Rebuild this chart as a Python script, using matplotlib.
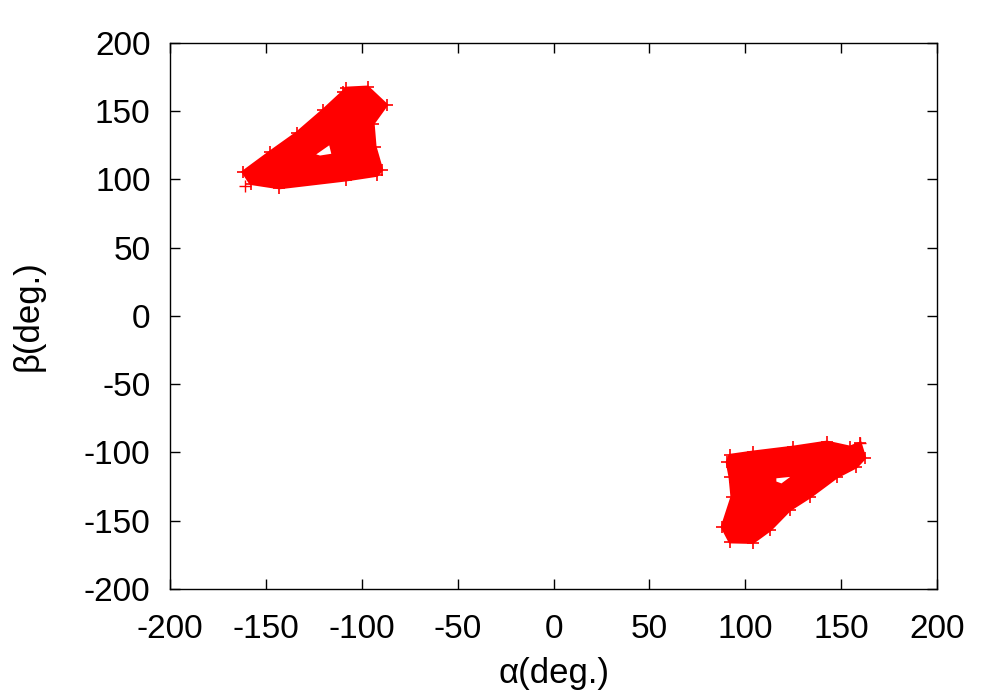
import numpy as np
import matplotlib
matplotlib.use("Agg")
import matplotlib.pyplot as plt
from matplotlib.path import Path
from matplotlib.patches import PathPatch

plt.rcParams['font.family'] = ['Liberation Sans', 'DejaVu Sans']
plt.rcParams['axes.unicode_minus'] = False

# Region 1 (upper left) outer boundary (alpha, beta)
r1_outer_a = [-162, -148, -134, -120, -110, -108, -97, -87, -94, -93, -89.5, -92, -108, -143, -158]
r1_outer_b = [105.5, 120, 134, 151, 164, 167, 167.8, 154.6, 141, 124, 107, 103, 99.6, 93.8, 97]
r1_hole_a = [-125.4, -121.8, -115, -116.5]
r1_hole_b = [118, 116.5, 118, 126.7]

# Region 2 (lower right) outer boundary
r2_outer_a = [160, 162.4, 158, 147.8, 133.8, 123.3, 113, 104, 92, 87.9, 93, 92, 90.5, 92, 104, 125, 142.6, 154.6]
r2_outer_b = [-93, -104, -110.6, -118, -132.6, -142, -156.8, -166, -165.6, -154.6, -132.6, -118, -107, -102, -99.6, -96, -92.3, -96]
r2_hole_a = [115.5, 126, 119, 115.5]
r2_hole_b = [-118, -116.5, -123.8, -122]

# isolated points
out_a = [-161, 160]
out_b = [95, -93]

fig = plt.figure(figsize=(10, 7), dpi=100)
ax = fig.add_axes([0.17, 0.1586, 0.767, 0.78])

def region(oa, ob, ha, hb):
    outer = np.column_stack([oa, ob])
    hole = np.column_stack([ha, hb])
    def signed_area(p):
        x, y = p[:, 0], p[:, 1]
        return 0.5 * np.sum(x * np.roll(y, -1) - np.roll(x, -1) * y)
    if signed_area(outer) < 0:
        outer = outer[::-1]
    if signed_area(hole) > 0:
        hole = hole[::-1]
    verts = np.vstack([outer, outer[:1], hole, hole[:1]])
    codes = ([Path.MOVETO] + [Path.LINETO] * (len(outer) - 1) + [Path.CLOSEPOLY]
             + [Path.MOVETO] + [Path.LINETO] * (len(hole) - 1) + [Path.CLOSEPOLY])
    ax.add_patch(PathPatch(Path(verts, codes), facecolor='#ff0000', edgecolor='#ff0000',
                           linewidth=2.0, zorder=2))
    ax.plot(oa, ob, linestyle='none', marker='+', color='#ff0000', markersize=8, mew=1.2, zorder=3)

region(r1_outer_a, r1_outer_b, r1_hole_a, r1_hole_b)
region(r2_outer_a, r2_outer_b, r2_hole_a, r2_hole_b)
ax.plot(out_a, out_b, linestyle='none', marker='+', color='#ff0000', markersize=9, mew=1, zorder=3)

ax.set_xlim(-200, 200)
ax.set_ylim(-200, 200)
ax.set_xticks(np.arange(-200, 201, 50))
ax.set_yticks(np.arange(-200, 201, 50))
ax.tick_params(direction='in', length=7, width=1, top=True, right=True,
               labelsize=24, color='black')
ax.tick_params(axis='y', pad=14)
ax.tick_params(axis='x', pad=18)
for s in ax.spines.values():
    s.set_linewidth(1)
ax.set_xlabel('α(deg.)', fontsize=25, labelpad=9)
ax.set_ylabel('β(deg.)', fontsize=25, labelpad=28)

fig.savefig('out.png', dpi=100)
